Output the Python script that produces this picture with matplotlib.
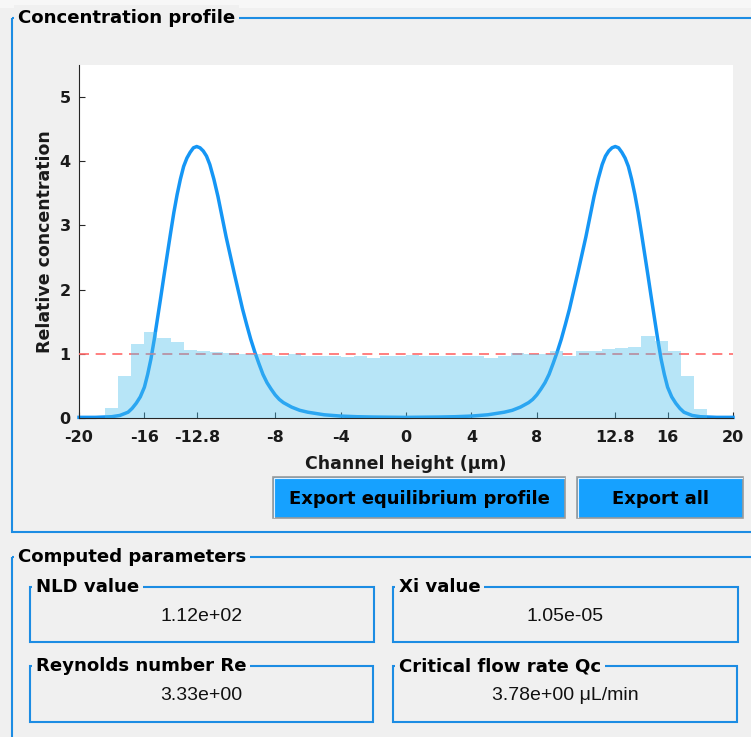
import numpy as np
import matplotlib.pyplot as plt
from matplotlib.patches import Rectangle

# histogram of particle positions, bins of 0.8 um from -20 to 20
bin_left = np.arange(-20, 20, 0.8)
bin_height = [0, 0, 0.16, 0.65, 1.15, 1.34, 1.24, 1.18, 1.06, 1.04,
              1.03, 1.02, 1.00, 0.99, 0.98, 0.96, 0.99, 0.97, 0.96, 0.96,
              0.95, 0.96, 0.93, 0.97, 0.97, 0.98, 0.96, 0.97, 0.96, 0.97,
              0.97, 0.94, 0.97, 1.02, 0.99, 0.99, 1.05, 0.96, 1.05, 1.04,
              1.07, 1.09, 1.10, 1.27, 1.20, 1.05, 0.66, 0.14, 0, 0]

# equilibrium profile, right half (x >= 0); mirrored for the left half
half_x = [0, 2, 3, 4, 5, 5.5, 6, 6.5, 7, 7.5, 7.75, 8, 8.25, 8.5, 8.75, 9, 9.25,
          9.5, 9.75, 10, 10.5, 11, 11.5, 11.75, 12, 12.2, 12.4, 12.6, 12.8, 13.0,
          13.2, 13.4, 13.6, 13.8, 14.0, 14.2, 14.4, 14.6, 14.8, 15.0, 15.2, 15.4,
          15.6, 15.8, 16.0, 16.25, 16.5, 16.75, 17.0, 17.5, 18.0, 19.0, 20.0]
half_y = [0.01, 0.015, 0.02, 0.03, 0.05, 0.07, 0.09, 0.12, 0.17, 0.24, 0.29, 0.36,
          0.45, 0.55, 0.68, 0.85, 1.03, 1.23, 1.46, 1.70, 2.25, 2.82, 3.45, 3.72,
          3.95, 4.08, 4.16, 4.21, 4.23, 4.21, 4.14, 4.05, 3.92, 3.72, 3.48, 3.20,
          2.88, 2.55, 2.22, 1.88, 1.55, 1.22, 0.92, 0.68, 0.48, 0.33, 0.23, 0.15,
          0.09, 0.04, 0.02, 0.01, 0.01]
curve_x = np.concatenate([-np.array(half_x[::-1]), np.array(half_x[1:])])
curve_y = np.concatenate([np.array(half_y[::-1]), np.array(half_y[1:])])

xticks = [-20, -16, -12.8, -8, -4, 0, 4, 8, 12.8, 16, 20]
xtick_labels = ['-20', '-16', '-12.8', '-8', '-4', '0', '4', '8', '12.8', '16', '20']

params = [('NLD value', '1.12e+02'), ('Xi value', '1.05e-05'),
          ('Reynolds number Re', '3.33e+00'), ('Critical flow rate Qc', '3.78e+00 μL/min')]

W, H = 751, 737
bg = '#f0f0f0'
frame_c = '#1c8ce3'
btn_c = '#16a1ff'

fig = plt.figure(figsize=(W / 100, H / 100), dpi=100, facecolor=bg)

# background layer in pixel coordinates for the panels and buttons
bgax = fig.add_axes([0, 0, 1, 1], zorder=0)
bgax.set_xlim(0, W)
bgax.set_ylim(H, 0)
bgax.axis('off')
bgax.add_patch(Rectangle((0, 0), W, 8, facecolor='#f7f7f7', edgecolor='none'))

def panel(x0, y0, x1, y1, title, fs=13.1):
    bgax.add_patch(Rectangle((x0, y0), x1 - x0, y1 - y0, facecolor='none',
                             edgecolor=frame_c, lw=1.5, clip_on=False))
    bgax.text(x0 + 6, y0, title, fontsize=fs, fontweight='bold', family='DejaVu Sans',
              ha='left', va='center', color='black',
              bbox=dict(boxstyle='square,pad=0.2', facecolor=bg, edgecolor='none'))

panel(12, 18, 760, 532, 'Concentration profile')
panel(12, 557, 760, 760, 'Computed parameters')

boxes = [(30, 587, 374, 642), (393, 587, 738, 642),
         (30, 666, 373, 722), (393, 666, 737, 722)]
for (x0, y0, x1, y1), (name, val) in zip(boxes, params):
    panel(x0, y0, x1, y1, name)
    bgax.text((x0 + x1) / 2, (y0 + y1) / 2 + 2, val, fontsize=14,
              family='Liberation Sans', ha='center', va='center', color='#111111')

buttons = [(273, 477, 565, 518, 'Export equilibrium profile'),
           (577, 477, 743, 518, 'Export all')]
for x0, y0, x1, y1, label in buttons:
    bgax.add_patch(Rectangle((x0, y0), x1 - x0, y1 - y0, facecolor=btn_c,
                             edgecolor='#9a9a9a', lw=1.2))
    bgax.plot([x0 + 1, x0 + 1, x1 - 1], [y1 - 1, y0 + 1, y0 + 1], color='#e0f0ff', lw=0.8)
    bgax.text((x0 + x1) / 2, (y0 + y1) / 2 + 1, label, fontsize=13, fontweight='bold',
              family='DejaVu Sans', ha='center', va='center', color='black')

# the chart itself
ax = fig.add_axes([79 / W, 1 - 418 / H, (733 - 79) / W, (418 - 65) / H], zorder=1)
ax.set_facecolor('white')
ax.plot(curve_x, curve_y, color='#1596f5', lw=2.5, zorder=2, clip_on=False,
        solid_joinstyle='round')
ax.axhline(1, color='#ff6a6a', lw=1.2, linestyle=(0, (6, 4)), zorder=3)
ax.bar(bin_left, bin_height, width=0.8, align='edge', color=(0.3, 0.75, 0.93),
       alpha=0.4, edgecolor='none', zorder=4)

ax.set_xlim(-20, 20)
ax.set_ylim(0, 5.5)
ax.set_xticks(xticks)
ax.set_xticklabels(xtick_labels)
ax.set_yticks(range(6))
for lab in ax.get_xticklabels() + ax.get_yticklabels():
    lab.set_fontweight('bold')
ax.tick_params(direction='in', length=4, width=0.8, labelsize=11.5,
               colors='#262626', labelcolor='#1a1a1a')
ax.tick_params(axis='x', pad=9)
ax.tick_params(axis='y', pad=6)
for s in ['top', 'right']:
    ax.spines[s].set_visible(False)
for s in ['left', 'bottom']:
    ax.spines[s].set_color('#262626')
    ax.spines[s].set_linewidth(0.8)
ax.set_xlabel('Channel height (μm)', fontsize=12.5, fontweight='bold', color='#1a1a1a', labelpad=7)
ax.set_ylabel('Relative concentration', fontsize=12.5, fontweight='bold', color='#1a1a1a', labelpad=4)

fig.savefig('out.png', dpi=100, facecolor=bg)
